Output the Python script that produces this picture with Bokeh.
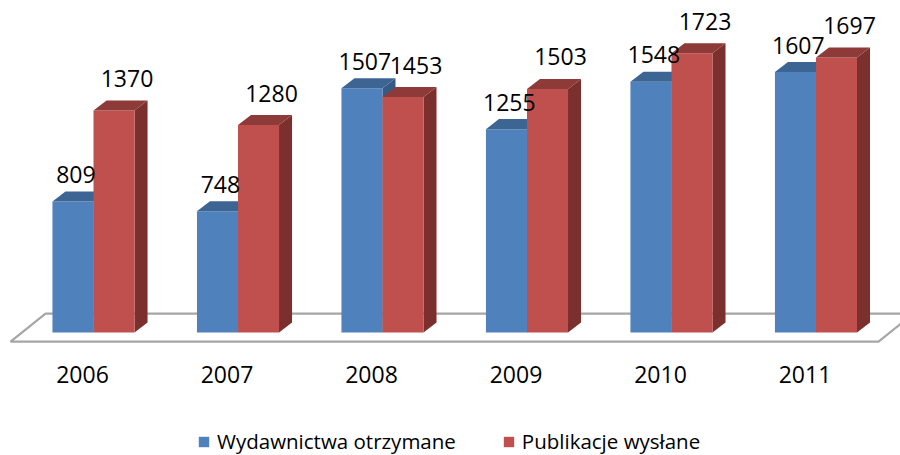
from bokeh.plotting import figure
from bokeh.models import Range1d, Legend, LegendItem
from bokeh.core.properties import value
from bokeh.embed import file_html
from bokeh.resources import INLINE

# ---- data ----
years = ["2006", "2007", "2008", "2009", "2010", "2011"]
received = [809, 748, 1507, 1255, 1548, 1607]      # Wydawnictwa otrzymane
sent = [1370, 1280, 1453, 1503, 1723, 1697]        # Publikacje wysłane
series_names = ["Wydawnictwa otrzymane", "Publikacje wysłane"]

# ---- style ----
FONT = "Open Sans"
BLUE = dict(front="#4F81BD", top="#3C6593", side="#355A86")
RED = dict(front="#C0504D", top="#8E3A38", side="#7B302E")
BAR_W = 0.284          # width of one bar in category units
DX = 0.09              # 3D depth offset (x, category units)
DY = 62.0              # 3D depth offset (y, value units)
LABEL_DX = [0.02, 0.09]    # label shift per series (category units)
LABEL_DY = [-27, -32]      # label shift per series (screen px)

W, H = 900, 455
p = figure(width=W, height=H, output_backend="svg", toolbar_location=None,
           x_range=Range1d(-0.6436, 5.585), y_range=Range1d(-759, 2049),
           min_border=0, min_border_left=0, min_border_right=0,
           min_border_top=0, min_border_bottom=0)
p.axis.visible = False
p.grid.visible = False
p.outline_line_color = None
p.background_fill_color = "white"
p.border_fill_color = "white"

n = len(years)
# ---- floor (outline only) ----
fl_front_y, fl_back_y = -56.0, 117.0
fl_left, fl_right = -0.574, (n - 1) + 0.433
fl_shift = 0.242
p.patch([fl_left, fl_left + fl_shift, fl_right + fl_shift, fl_right],
        [fl_front_y, fl_back_y, fl_back_y, fl_front_y],
        fill_color="white", line_color="#A6A6A6", line_width=2.2)

legend_renderers = []
label_specs = []
for s_idx, (vals, col) in enumerate([(received, BLUE), (sent, RED)]):
    tops_x, tops_y, sides_x, sides_y = [], [], [], []
    lefts, rights = [], []
    for i, v in enumerate(vals):
        l = i - BAR_W if s_idx == 0 else i
        r = l + BAR_W
        lefts.append(l); rights.append(r)
        sides_x.append([r, r + DX, r + DX, r]); sides_y.append([0, DY, v + DY, v])
        tops_x.append([l, l + DX, r + DX, r]); tops_y.append([v, v + DY, v + DY, v])
    p.patches(sides_x, sides_y, fill_color=col["side"], line_color=None)
    fr = p.quad(left=lefts, right=rights, bottom=[0] * n, top=vals,
                fill_color=col["front"], line_color=None)
    p.patches(tops_x, tops_y, fill_color=col["top"], line_color=None)
    legend_renderers.append(fr)
    centers = [(a + b) / 2 + LABEL_DX[s_idx] for a, b in zip(lefts, rights)]
    label_specs.append((centers, vals, LABEL_DY[s_idx]))

# value labels (drawn after all bars)
for centers, vals, yoff in label_specs:
    p.text(x=centers, y=vals, text=[str(v) for v in vals],
           text_font=value(FONT), text_font_size="23px", text_color="black",
           text_align="center", text_baseline="middle", y_offset=yoff)

# category labels
p.text(x=[i - 0.076 for i in range(n)], y=[0] * n, text=years,
       text_font=value(FONT), text_font_size="23px", text_color="black",
       text_align="center", text_baseline="middle", y_offset=42)

legend = Legend(items=[LegendItem(label=series_names[k], renderers=[legend_renderers[k]])
                       for k in range(2)],
                orientation="horizontal", location=(197, 0),
                label_text_font=FONT, label_text_font_size="20.5px",
                label_text_color="black", glyph_width=13, glyph_height=13,
                label_standoff=7, spacing=46, padding=0, margin=0,
                border_line_color=None, background_fill_alpha=0)
p.add_layout(legend, "center")

open("out.html", "w").write(file_html(p, INLINE))
